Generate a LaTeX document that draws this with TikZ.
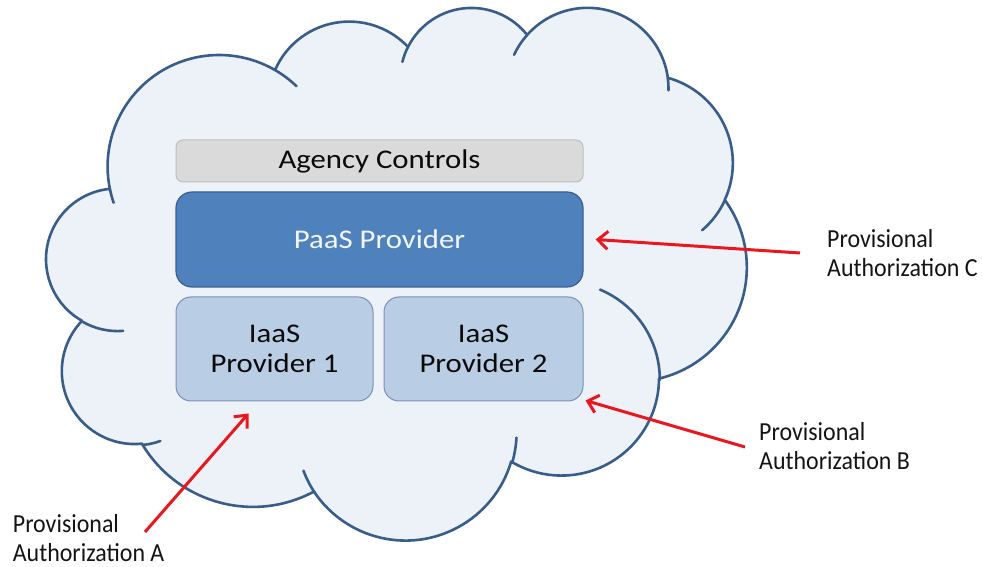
\documentclass[tikz,border=0pt]{standalone}
\usepackage{fontspec}
\setmainfont{Carlito}
\newfontfamily\boxfont{Carlito}[FakeStretch=1.14]
\newfontfamily\labelfont{Carlito}[FakeStretch=0.92]
\usetikzlibrary{arrows.meta}
\definecolor{cloudfill}{RGB}{237,242,249}
\definecolor{cloudline}{RGB}{56,93,138}
\definecolor{agencyfill}{RGB}{218,218,218}
\definecolor{agencyline}{RGB}{190,190,190}
\definecolor{paasfill}{RGB}{79,129,189}
\definecolor{paasline}{RGB}{58,95,145}
\definecolor{paastext}{RGB}{242,246,250}
\definecolor{iaasfill}{RGB}{185,205,229}
\definecolor{iaasline}{RGB}{118,146,185}
\definecolor{textdark}{RGB}{10,10,10}
\definecolor{labeltext}{RGB}{20,20,20}
\definecolor{arrowred}{RGB}{232,24,30}
\begin{document}
\begin{tikzpicture}[x=1pt,y=1pt,
  cloudshape/.style={draw=cloudline, line width=2.6pt, fill=cloudfill, line join=round},
  cloudtail/.style={draw=cloudline, line width=2.6pt, line cap=round},
  boxtext/.style={font=\boxfont\fontsize{27}{30}\selectfont, inner sep=0pt, align=center},
  agencybox/.style={boxtext, draw=agencyline, line width=1pt, fill=agencyfill, rounded corners=7pt, text=textdark},
  paasbox/.style={boxtext, draw=paasline, line width=1.2pt, fill=paasfill, rounded corners=16pt, text=paastext},
  iaasbox/.style={boxtext, draw=iaasline, line width=1pt, fill=iaasfill, rounded corners=15pt, text=textdark},
  lbl/.style={font=\labelfont\fontsize{26}{29}\selectfont, align=left, inner sep=0pt, anchor=west, text=labeltext},
  redarrow/.style={draw=arrowred, line width=3pt, -{Straight Barb[length=10pt,width=18pt]}}
]
\useasboundingbox (0,0) rectangle (982,567);
\fill[white] (0,0) rectangle (982,567);

% cloud outline
\path[cloudshape] (219.1,400.5) ++(192.2:111.5)
  arc[start angle=192.2, end angle=59.9, radius=111.5]
  arc[start angle=156.3, end angle=43.4, radius=81]
  arc[start angle=153.2, end angle=38.3, radius=71]
  arc[start angle=138.3, end angle=7.8, radius=81]
  arc[start angle=74.7, end angle=-24.7, radius=88.3]
  arc[start angle=36.2, end angle=-76.6, radius=114.3]
  arc[start angle=-0.3, end angle=-121.1, radius=97.5]
  arc[start angle=-16.4, end angle=-146.3, radius=110.1]
  arc[start angle=-61.8, end angle=-149.3, radius=129.1]
  arc[start angle=-84.3, end angle=-223.7, radius=72.9]
  arc[start angle=-119.4, end angle=-263.8, radius=70.7]
  -- cycle;
% inner arcs of the cloud
\draw[cloudtail] (219.1,400.5) ++(192.2:111.5) arc[start angle=192.2, end angle=199, radius=111.5];
\draw[cloudtail] (219.1,400.5) ++(59.9:111.5) arc[start angle=59.9, end angle=46, radius=111.5];
\draw[cloudtail] (471.3,488) ++(153.2:71) arc[start angle=153.2, end angle=166, radius=71];
\draw[cloudtail] (587.5,478) ++(138.3:81) arc[start angle=138.3, end angle=155, radius=81];
\draw[cloudtail] (587.5,478) ++(7.8:81) arc[start angle=7.8, end angle=-1, radius=81];
\draw[cloudtail] (644.8,403.9) ++(-24.7:88.3) arc[start angle=-24.7, end angle=-49.5, radius=88.3];
\draw[cloudtail] (562.3,187.5) ++(-0.3:97.5) arc[start angle=-0.3, end angle=67.2, radius=97.5];
\draw[cloudtail] (406.5,135.1) ++(-16.4:110.1) arc[start angle=-16.4, end angle=-3, radius=110.1];
\draw[cloudtail] (406.5,135.1) ++(-146.3:110.1) arc[start angle=-146.3, end angle=-159.4, radius=110.1];
\draw[cloudtail] (135.7,194.6) ++(-84.3:72.9) arc[start angle=-84.3, end angle=-70.2, radius=72.9];
\draw[cloudtail] (117.7,306.6) ++(-119.4:70.7) arc[start angle=-119.4, end angle=-85.6, radius=70.7];

% layers
\node[agencybox, minimum width=407pt, minimum height=42pt] (agency) at (379.5,406) {Agency Controls};
\node[paasbox, minimum width=407pt, minimum height=95pt] (paas) at (379.5,327.5) {PaaS Provider};
\node[iaasbox, minimum width=197pt, minimum height=104pt] (iaas1) at (274.5,218) {IaaS\\Provider 1};
\node[iaasbox, minimum width=199pt, minimum height=104pt] (iaas2) at (483.5,218) {IaaS\\Provider 2};

% labels
\node[lbl] (labC) at (827,314) {Provisional\\Authorization C};
\node[lbl] (labB) at (759,121) {Provisional\\Authorization B};
\node[lbl] (labA) at (12.7,29) {Provisional\\Authorization A};

% arrows
\coordinate (tailC) at (800,314);
\coordinate (tailB) at (745,120);
\coordinate (tailA) at (145,35);
\draw[redarrow] (tailC) -- ([xshift=12pt]paas.east);
\draw[redarrow] (tailB) -- ([xshift=2pt,yshift=1pt]iaas2.south east);
\draw[redarrow] (tailA) -- ([shift={(-26pt,-12pt)}]iaas1.south);
\end{tikzpicture}
\end{document}
